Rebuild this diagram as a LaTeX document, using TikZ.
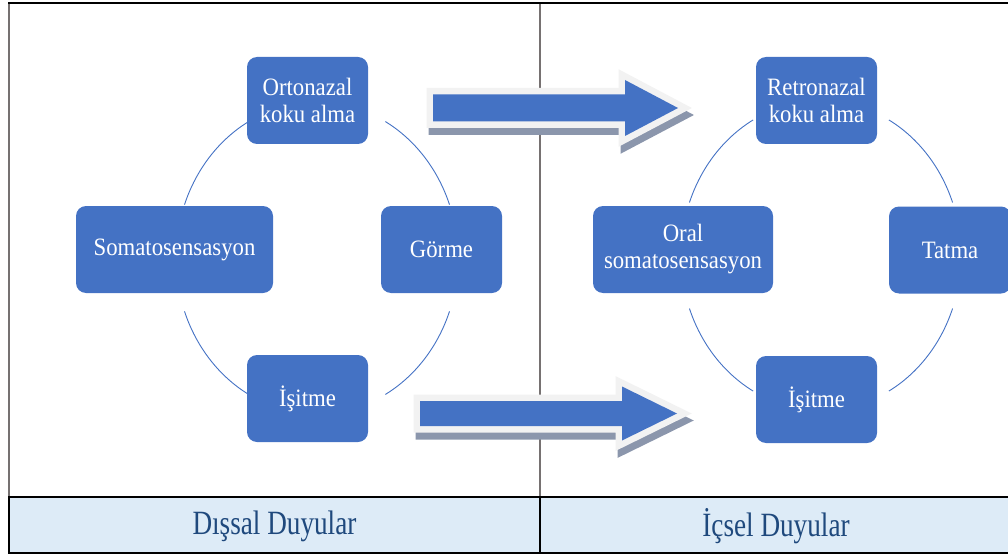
\documentclass[tikz,border=0pt]{standalone}
\usepackage{fontspec}
\setmainfont{Liberation Serif}[FakeStretch=0.91]
\newfontfamily\labfont{Liberation Serif}[FakeStretch=0.8]
\usetikzlibrary{calc}
\definecolor{boxblue}{RGB}{68,114,196}
\definecolor{rowfill}{RGB}{221,235,247}
\definecolor{labblue}{RGB}{31,73,125}
\definecolor{shadowc}{RGB}{139,150,172}
\definecolor{outlc}{RGB}{242,242,242}
\definecolor{linegray}{RGB}{118,113,113}
\newcommand\myarrowpath[6]{({#1},{#4+#5}) -- ({#2},{#4+#5}) -- ({#2},{#4+#6}) -- ({#3},{#4}) -- ({#2},{#4-#6}) -- ({#2},{#4-#5}) -- ({#1},{#4-#5}) -- cycle}
\newcommand\myarrow[6]{%
  \filldraw[shadowc,line width=13pt,miter limit=10,shift={(2,-7)}] \myarrowpath{#1}{#2}{#3}{#4}{#5}{#6};
  \filldraw[outlc,line width=13pt,miter limit=10] \myarrowpath{#1}{#2}{#3}{#4}{#5}{#6};
  \fill[boxblue] \myarrowpath{#1}{#2}{#3}{#4}{#5}{#6};}
\begin{document}
\begin{tikzpicture}[x=1pt,y=1pt,
 box/.style={draw=none,fill=boxblue,rounded corners=10pt,text=white,align=center,
   font=\fontsize{25}{27}\selectfont,minimum height=87pt,inner sep=0pt},
 ring/.style={draw=boxblue,line width=0.9pt},
 bandlabel/.style={text=labblue,font=\labfont\fontsize{34}{38}\selectfont,inner sep=0pt}]
\useasboundingbox (0,0) rectangle (1008,-556);
\clip (0,0) rectangle (1008,-556);
% frame lines
\draw[linegray,line width=2pt] (9,-3) -- (9,-497);
\draw[linegray,line width=1.5pt] (540,-3) -- (540,-497);
\draw[black,line width=2.5pt] (8,-3) -- (1010,-3);
% bottom band
\filldraw[fill=rowfill,draw=black,line width=2.5pt] (9,-497) rectangle (1012,-553);
\draw[black,line width=2pt] (540,-497) -- (540,-553);
\node[bandlabel] (dis) at (274.5,-526) {Dışsal Duyular};
\node[bandlabel] (ic) at (776,-526) {İçsel Duyular};
% arcs
\coordinate (cL) at (317,-258);
\coordinate (cR) at (821,-255.5);
\foreach \a/\b in {20/61,119/160,200/241,299/340}{
  \draw[ring] ($(cL)+(\a:141 and 156)$) arc[start angle=\a,end angle=\b,x radius=141,y radius=156];
  \draw[ring] ($(cR)+(\a:140 and 155)$) arc[start angle=\a,end angle=\b,x radius=140,y radius=155];
}
% boxes
\node[box,minimum width=121pt] (orto) at (307.5,-100.5) {Ortonazal\\koku alma};
\node[box,minimum width=197pt] (soma) at (174.5,-249.5) {Somatosensasyon};
\node[box,minimum width=121pt] (gorme) at (441.5,-249.5) {Görme};
\node[box,minimum width=121pt] (isitmeL) at (307.5,-398.5) {İşitme};
\node[box,minimum width=121pt] (retro) at (816.5,-100.5) {Retronazal\\koku alma};
\node[box,minimum width=180pt] (oral) at (683,-249.5) {Oral\\somatosensasyon};
\node[box,minimum width=122pt] (tatma) at (950,-250) {Tatma};
\node[box,minimum width=121pt] (isitmeR) at (816.5,-399.5) {İşitme};
% arrows
\myarrow{433}{625}{678}{-108}{13.5}{28}
\myarrow{420}{622}{677}{-413.5}{12.5}{27}
\end{tikzpicture}
\end{document}
